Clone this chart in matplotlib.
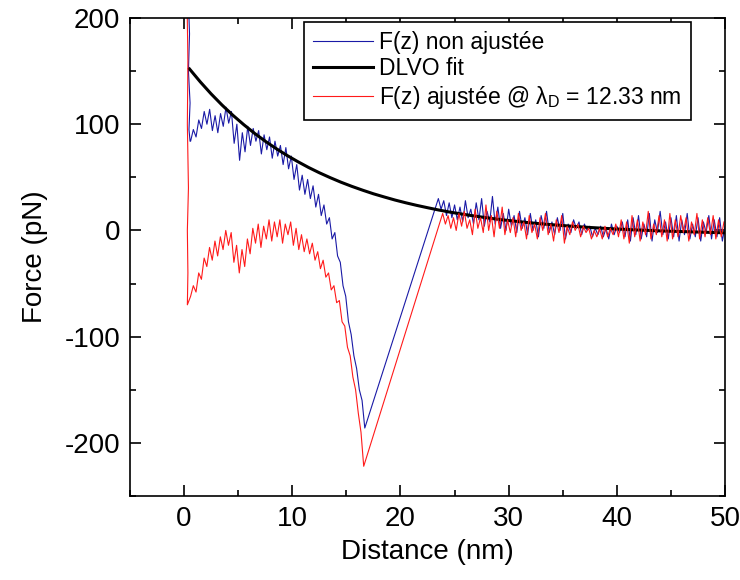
import numpy as np
import matplotlib
matplotlib.use('Agg')
import matplotlib.pyplot as plt
from matplotlib.ticker import MultipleLocator

plt.rcParams['font.family'] = ['Liberation Sans', 'DejaVu Sans']
plt.rcParams['mathtext.fontset'] = 'custom'
plt.rcParams['mathtext.rm'] = 'Liberation Sans'
plt.rcParams['mathtext.it'] = 'Liberation Sans:italic'
plt.rcParams['axes.unicode_minus'] = False

# --- data ---
# contact spikes (x, y)
blue_spike_x = [0.35, 0.5, 0.4, 0.55, 0.45, 0.55]
blue_spike_y = [230, 185, 150, 120, 95, 84]
red_spike_x = [0.25, 0.35, 0.3, 0.4, 0.3, 0.35, 0.3]
red_spike_y = [230, 160, 100, 40, 0, -40, -70]

# noisy part before the jump, sampled on a regular grid
blue_near_range = (0.6, 16.7)
blue_near = [84, 95, 88, 104, 96, 112, 100, 114, 94, 108, 92, 110, 98, 116, 101, 112,
             82, 100, 66, 92, 74, 98, 80, 96, 84, 94, 72, 90, 76, 88, 68, 84, 70, 80,
             62, 78, 58, 70, 48, 62, 38, 52, 34, 48, 30, 42, 22, 34, 14, 24, 6, 12,
             -8, -2, -24, -30, -52, -62, -86, -98, -118, -130, -150, -160, -186]
red_near_range = (0.6, 16.6)
red_near = [-62, -52, -58, -40, -46, -26, -34, -16, -28, -10, -24, -6, -18, 0, -14, -2,
            -30, -14, -40, -18, -34, -8, -22, 2, -12, 6, -16, 4, -8, 10, -10, 8, -6, 10,
            -12, 6, -4, 8, -14, 2, -18, -4, -20, -8, -22, -12, -28, -20, -36, -28, -44,
            -40, -56, -52, -68, -66, -86, -90, -110, -118, -138, -150, -172, -190, -222]

# noisy part after the jump
blue_far_range = (23.5, 50.0)
blue_far = [30, 20, 28, 14, 26, 12, 24, 10, 22, 8, 28, 12, 20, 6, 26, 10, 30, 4, 18, 8,
            32, 6, 22, 2, 16, 0, 20, 4, 14, -2, 18, 2, 12, -4, 16, 0, 10, -6, 14, 2,
            18, -2, 8, -4, 12, 0, 16, -8, 6, -2, 10, 2, 8, -4, 6, 0, 4, -6, 2, -4,
            4, -6, 2, -8, 6, -4, 4, -2, 8, -6, 10, -10, 12, -4, 14, -8, 6, -6, 16, -10,
            10, -2, 18, -4, 8, -8, 12, -6, 14, -10, 10, -4, 16, -8, 6, -6, 12, -10, 8, -2,
            14, -8, 10, -6, 12, -10, 4]
red_far_range = (23.9, 49.9)
red_far = [16, 6, 14, 2, 12, 0, 16, 4, 18, 2, 10, -4, 20, 2, 12, -2, 24, 0, 14, -6,
           18, 2, 22, -4, 10, -2, 12, -6, 16, 0, 8, -8, 14, -2, 6, -8, 12, 0, 16, -4,
           6, -10, 10, -2, 14, -12, 4, -4, 8, 0, 6, -6, 4, -2, 2, -8, 0, -6, 2, -8,
           4, -6, 2, -4, 6, -6, 10, -8, 8, -12, 14, -6, 10, -10, 8, -4, 18, -8, 6, -4,
           14, -6, 10, -10, 16, -8, 10, -6, 14, -2, 12, -10, 8, -4, 16, -8, 10, -6, 12, -4,
           14, -8, 10, -6, 8]

# DLVO fit sampled every 1 nm from 0.5 nm
dlvo_x = [0.5, 1.5, 2.5, 3.5, 4.5, 5.5, 6.5, 7.5, 8.5, 9.5, 10.5, 11.5, 12.5, 13.5, 14.5,
          15.5, 16.5, 17.5, 18.5, 19.5, 20.5, 21.5, 22.5, 23.5, 24.5, 25.5, 26.5, 27.5,
          28.5, 29.5, 30.5, 31.5, 32.5, 33.5, 34.5, 35.5, 36.5, 37.5, 38.5, 39.5, 40.5,
          41.5, 42.5, 43.5, 44.5, 45.5, 46.5, 47.5, 48.5, 49.5, 50.0]
dlvo_y = [152.0, 139.8, 128.5, 118.1, 108.5, 99.7, 91.5, 84.0, 77.1, 70.7, 64.8, 59.3,
          54.3, 49.7, 45.4, 41.5, 37.9, 34.5, 31.5, 28.6, 26.0, 23.6, 21.4, 19.3, 17.4,
          15.7, 14.1, 12.6, 11.2, 9.9, 8.8, 7.7, 6.7, 5.8, 5.0, 4.2, 3.5, 2.8, 2.2, 1.6,
          1.1, 0.6, 0.2, -0.2, -0.6, -0.9, -1.2, -1.5, -1.8, -2.1, -2.2]


def build(spike_x, spike_y, near_rng, near, far_rng, far):
    x = list(spike_x) + list(np.linspace(near_rng[0], near_rng[1], len(near))) \
        + list(np.linspace(far_rng[0], far_rng[1], len(far)))
    y = list(spike_y) + list(near) + list(far)
    return x, y


bx, by = build(blue_spike_x, blue_spike_y, blue_near_range, blue_near, blue_far_range, blue_far)
rx, ry = build(red_spike_x, red_spike_y, red_near_range, red_near, red_far_range, red_far)

fig = plt.figure(figsize=(7.4, 5.8), dpi=100)
ax = fig.add_axes([0.1757, 0.1448, 0.8041, 0.8242])

ax.plot(bx, by, color='#1a1aa6', lw=0.8, label='F(z) non ajustée')
ax.plot(dlvo_x, dlvo_y, color='black', lw=2.2, label='DLVO fit')
ax.plot(rx, ry, color='#ff1a1a', lw=0.8, label=r'F(z) ajustée @ $\mathregular{\lambda_D}$ = 12.33 nm')

ax.set_xlim(-5, 50)
ax.set_ylim(-250, 200)
ax.xaxis.set_major_locator(MultipleLocator(10))
ax.xaxis.set_minor_locator(MultipleLocator(5))
ax.yaxis.set_major_locator(MultipleLocator(100))
ax.yaxis.set_minor_locator(MultipleLocator(50))
ax.tick_params(which='both', direction='in', top=True, right=True, width=1.2,
               labelsize=20)
ax.tick_params(which='major', length=8, pad=7)
ax.tick_params(which='minor', length=4)
for s in ax.spines.values():
    s.set_linewidth(1.2)

ax.set_xlabel('Distance (nm)', fontsize=20, labelpad=5)
ax.set_ylabel('Force (pN)', fontsize=20, labelpad=12)

leg = ax.legend(loc='upper left', bbox_to_anchor=(0.292, 0.992), fontsize=16.5,
                frameon=True, fancybox=False, edgecolor='black', framealpha=1,
                handlelength=2.6, handletextpad=0.3, borderpad=0.4, labelspacing=0.15,
                borderaxespad=0)
leg.get_frame().set_linewidth(1.2)

fig.savefig('out.png', dpi=100)
